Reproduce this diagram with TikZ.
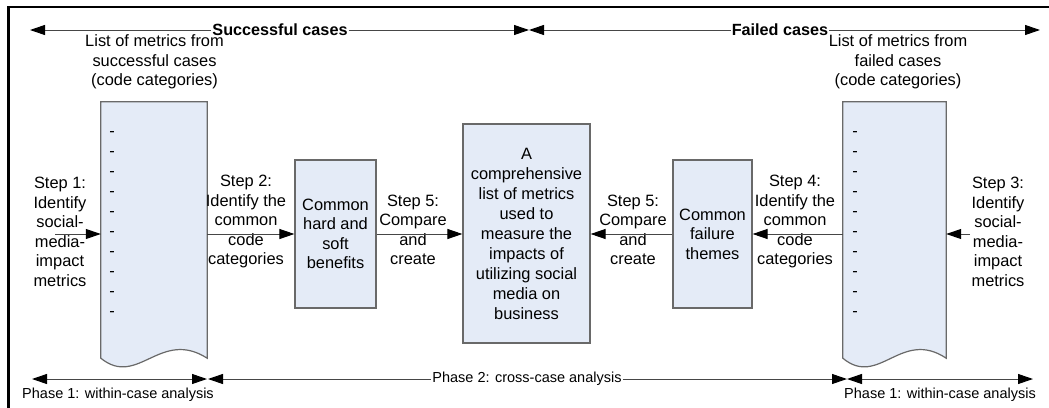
\documentclass[tikz,border=0pt]{standalone}
\usepackage{fontspec}
\setmainfont{Liberation Sans}
\usetikzlibrary{arrows.meta,calc}

\definecolor{boxfill}{RGB}{228,235,247}
\definecolor{boxedge}{RGB}{105,105,105}
\definecolor{linegray}{RGB}{70,70,70}

\tikzset{
  x=1pt, y=-1pt,
  >={Triangle[length=15pt,width=10pt,color=black]},
  conn/.style={draw=linegray, line width=1pt},
  lbl/.style={font=\fontsize{16.4}{19.5}\selectfont, align=center, inner sep=1pt},
  phlbl/.style={font=\fontsize{14.5}{17}\selectfont, inner sep=1pt},
  toplbl/.style={font=\fontsize{16.2}{19}\selectfont\bfseries, inner sep=1pt, fill=white},
  stepbox/.style={draw=boxedge, fill=boxfill, line width=1.2pt, align=center,
    inner sep=0pt, font=\fontsize{16.4}{19.5}\selectfont},
  docarea/.style={draw=none, inner sep=0pt},
  docline/.style={draw=boxedge, fill=boxfill, line width=1.2pt},
  dashmark/.style={font=\fontsize{16.4}{19.5}\selectfont, inner sep=0pt,
    text height=0.56em, text depth=0pt}
}

\begin{document}
\begin{tikzpicture}
\useasboundingbox (0,0) rectangle (1049,407);
\clip (0,0) rectangle (1049,407);

% outer frame
\draw[line width=2.6pt] (8.5,440) -- (8.5,7) -- (1080,7);

% ---- top ranges ----
\coordinate (tl) at (30,30);
\coordinate (tm) at (529,30);
\coordinate (tr) at (1040,30);
\node[toplbl] (succ) at (280,30) {Successful cases};
\node[toplbl] (failc) at (780,30) {Failed cases};
\draw[conn,<-] (tl) -- (succ.west);
\draw[conn,->] (succ.east) -- (tm);
\draw[conn,<-] (tm) -- (failc.west);
\draw[conn,->] (failc.east) -- (tr);

% ---- documents with code categories ----
\node[lbl] (listL) at (154.5,62) {List of metrics from\\successful cases\\(code categories)};
\node[lbl] (listR) at (898,62) {List of metrics from\\failed cases\\(code categories)};

\node[docarea, minimum width=106pt, minimum height=256pt] (docL) at (154,230) {};
\draw[docline] (docL.south west) -- (docL.north west) -- (docL.north east) -- (docL.south east)
  .. controls ($(docL.south east)+(-47,-30)$) and ($(docL.south west)+(37,30)$) .. (docL.south west) -- cycle;

\node[docarea, minimum width=103pt, minimum height=256pt] (docR) at (894.5,230) {};
\draw[docline] (docR.south west) -- (docR.north west) -- (docR.north east) -- (docR.south east)
  .. controls ($(docR.south east)+(-45,-30)$) and ($(docR.south west)+(36,30)$) .. (docR.south west) -- cycle;

\foreach \k in {0,...,9} {
  \node[dashmark] (dL\k) at (112,134+20*\k) {-};
  \node[dashmark] (dR\k) at (855,134+20*\k) {-};
}

% ---- process boxes ----
\node[stepbox, minimum width=81pt, minimum height=148pt] (benef) at (335.5,234)
  {Common\\hard and\\soft\\benefits};
\node[stepbox, minimum width=127pt, minimum height=219pt,
  font=\fontsize{16.4}{20}\selectfont] (summary) at (526.5,233.5)
  {A\\comprehensive\\list of metrics\\used to\\measure the\\impacts of\\utilizing social\\media on\\business};
\node[stepbox, minimum width=79pt, minimum height=148pt] (failth) at (712.5,234)
  {Common\\failure\\themes};

% ---- step labels ----
\node[lbl] (step1) at (60,232) {Step 1:\\Identify\\social-\\media-\\impact\\metrics};
\node[lbl] (step2) at (246,221.5) {Step 2:\\Identify the\\common\\code\\categories};
\node[lbl] (step5a) at (413,230) {Step 5:\\Compare\\and\\create};
\node[lbl] (step5b) at (633,230) {Step 5:\\Compare\\and\\create};
\node[lbl] (step4) at (795,221.5) {Step 4:\\Identify the\\common\\code\\categories};
\node[lbl] (step3) at (998,232) {Step 3:\\Identify\\social-\\media-\\impact\\metrics};

% ---- flow connectors ----
\coordinate (in1) at (55,234);
\coordinate (in3) at (970,234);
\draw[conn,->] (in1) -- (docL.west |- in1);
\draw[conn,->] (docL.east |- in1) -- (benef.west);
\draw[conn,->] (benef.east) -- (summary.west |- benef.east);
\draw[conn,->] (failth.west) -- (summary.east |- failth.west);
\draw[conn,->] (docR.west |- in3) -- (failth.east);
\draw[conn,->] (in3) -- (docR.east |- in3);

% ---- phases ----
\coordinate (bl) at (32,379);
\coordinate (bm1) at (207,379);
\coordinate (bm1b) at (208,379);
\coordinate (bm2) at (847,379);
\coordinate (br) at (1033,379);
\draw[conn,<->] (bl) -- (bm1);
\node[phlbl, fill=white] (p2) at (527,379) {Phase 2: cross-case analysis};
\draw[conn,<-] (bm1b) -- (p2.west);
\draw[conn,->] (p2.east) -- (bm2);
\draw[conn,<->] (bm2) -- (br);
\node[phlbl] (p1a) at (118,395) {Phase 1: within-case analysis};
\node[phlbl] (p1b) at (940,395) {Phase 1: within-case analysis};
\end{tikzpicture}
\end{document}
